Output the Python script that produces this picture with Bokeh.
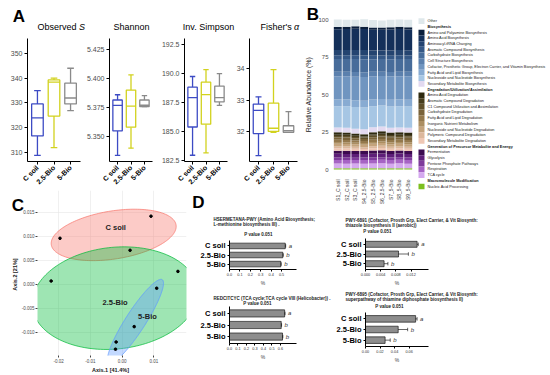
import math
import numpy as np
from bokeh.plotting import figure
from bokeh.layouts import row, column
from bokeh.models import (Range1d, FixedTicker, Whisker, TeeHead,
                          ColumnDataSource, NumeralTickFormatter)
from bokeh.embed import file_html
from bokeh.resources import INLINE
from bokeh.core.properties import value

FONT = "Liberation Sans"

# ------------------------------------------------------------------ data
groups = ["C soil", "2.5-Bio", "5-Bio"]
group_box_colors = ["#3d4bc4", "#d2d21e", "#8a8a8a"]

# Panel A : box statistics per group (lower whisker, Q1, median, Q3, upper whisker)
obs_low = [308.9, 312.0, 326.9]
obs_q1 = [316.7, 324.7, 329.6]
obs_med = [324.0, 338.4, 332.0]
obs_q3 = [329.6, 339.3, 338.0]
obs_high = [335.0, 340.0, 344.0]

sha_low = [5.3338, 5.3400, 5.3756]
sha_q1 = [5.3548, 5.3580, 5.3756]
sha_med = [5.3767, 5.3760, 5.3768]
sha_q3 = [5.3813, 5.3898, 5.3813]
sha_high = [5.3858, 5.4028, 5.3850]

inv_low = [182.96, 183.16, 187.27]
inv_q1 = [185.40, 185.64, 187.56]
inv_med = [187.93, 188.20, 187.93]
inv_q3 = [188.84, 189.27, 188.93]
inv_high = [189.76, 190.36, 190.00]

fis_low = [31.23, 31.97, 31.97]
fis_q1 = [31.93, 32.00, 31.97]
fis_med = [32.67, 32.10, 32.02]
fis_q3 = [32.87, 32.90, 32.18]
fis_high = [33.10, 33.97, 32.63]

a_titles = ["Observed S", "Shannon", "Inv. Simpson", "Fisher's \u03b1"]

# Panel B : relative abundance (%) of pathway classes per sample
samples = ["S1_C soil", "S2_C soil", "S3_C soil", "S4_2.5-Bio", "S5_2.5-Bio",
           "S6_2.5-Bio", "S7_5-Bio", "S8_5-Bio", "S9_5-Bio"]
b_cats = [
    "Other",
    "Amino and Polyamine Biosynthesis",
    "Amino Acid Biosynthesis",
    "Aminoacyl-tRNA Charging",
    "Aromatic Compound Biosynthesis",
    "Carbohydrate Biosynthesis",
    "Cell Structure Biosynthesis",
    "Cofactor, Prosthetic Group, Electron Carrier, and Vitamin Biosynthesis",
    "Fatty Acid and Lipid Biosynthesis",
    "Nucleoside and Nucleotide Biosynthesis",
    "Secondary Metabolite Biosynthesis",
    "Amino Acid Degradation",
    "Aromatic Compound Degradation",
    "C1 Compound Utilization and Assimilation",
    "Carbohydrate Degradation",
    "Fatty Acid and Lipid Degradation",
    "Inorganic Nutrient Metabolism",
    "Nucleoside and Nucleotide Degradation",
    "Polymeric Compound Degradation",
    "Secondary Metabolite Degradation",
    "Fermentation",
    "Glycolysis",
    "Pentose Phosphate Pathways",
    "Respiration",
    "TCA cycle",
    "Nucleic Acid Processing",
]
b_class = ([""] + ["Biosynthesis"] * 10 + ["Degradation/Utilization/Assimilation"] * 9
           + ["Generation of Precursor Metabolite and Energy"] * 5 + ["Macromolecule Modification"])
b_colors = [
    "#dfe8eb",
    "#0b1f3c", "#14305a", "#244470", "#355886", "#476c9a", "#5b80ad", "#7095c0", "#88abd2", "#a6c6e4", "#e2d9f0",
    "#2e2a10", "#473d1d", "#60502b", "#79633a", "#93784c", "#ab8e61", "#c4a37c", "#dcb79c", "#efc7b4",
    "#3c0a4f", "#5e1e78", "#7e3b9b", "#a663c4", "#d5a9ef",
    "#7cbf1e",
]
b_values = [
    [5.0, 4.8, 4.3, 5.0, 4.9, 4.8, 5.0, 4.9, 4.9],
    [1.5, 1.5, 1.6, 1.5, 1.5, 1.5, 1.5, 1.5, 1.5],
    [13.9, 14.0, 14.2, 14.0, 13.8, 13.7, 13.9, 14.0, 13.9],
    [3.5, 3.5, 3.6, 3.6, 3.5, 3.4, 3.5, 3.5, 3.5],
    [2.4, 2.4, 2.5, 2.5, 2.4, 2.4, 2.4, 2.4, 2.4],
    [8.5, 8.5, 8.6, 8.7, 8.4, 8.4, 8.5, 8.5, 8.5],
    [3.0, 3.0, 3.1, 3.1, 3.0, 2.9, 3.0, 3.0, 3.0],
    [15.5, 15.6, 15.7, 15.8, 15.4, 15.3, 15.5, 15.5, 15.6],
    [4.5, 4.5, 4.6, 4.6, 4.5, 4.4, 4.5, 4.5, 4.5],
    [14.2, 14.2, 14.4, 14.5, 14.1, 14.0, 14.2, 14.2, 14.2],
    [3.2, 3.2, 3.2, 3.3, 3.2, 3.1, 3.2, 3.2, 3.2],
    [1.6, 1.6, 1.5, 1.5, 1.6, 1.7, 1.6, 1.6, 1.6],
    [0.8, 0.8, 0.8, 0.7, 0.8, 0.8, 0.8, 0.8, 0.8],
    [1.0, 1.0, 0.9, 0.9, 1.0, 1.0, 1.0, 1.0, 1.0],
    [1.6, 1.6, 1.5, 1.4, 1.6, 1.7, 1.6, 1.6, 1.6],
    [1.5, 1.5, 1.4, 1.4, 1.5, 1.5, 1.5, 1.5, 1.5],
    [1.2, 1.2, 1.1, 1.1, 1.2, 1.2, 1.2, 1.2, 1.2],
    [1.7, 1.7, 1.6, 1.6, 1.7, 1.8, 1.7, 1.7, 1.7],
    [1.3, 1.3, 1.3, 1.2, 1.3, 1.4, 1.3, 1.3, 1.3],
    [1.6, 1.5, 1.5, 1.4, 1.6, 1.6, 1.6, 1.5, 1.5],
    [2.0, 2.1, 2.0, 1.9, 2.1, 2.2, 1.9, 2.0, 2.0],
    [2.5, 2.4, 2.5, 2.4, 2.5, 2.6, 2.4, 2.5, 2.4],
    [1.6, 1.6, 1.5, 1.6, 1.6, 1.5, 1.6, 1.6, 1.6],
    [2.4, 2.5, 2.4, 2.5, 2.4, 2.4, 2.5, 2.4, 2.5],
    [3.2, 3.1, 3.2, 3.0, 3.2, 3.3, 3.1, 3.2, 3.1],
    [0.8, 0.8, 0.8, 0.9, 0.8, 0.8, 0.8, 0.9, 0.8],
]

# Panel C : PCoA coordinates
pc_x = [0.0091, -0.0196, 0.0025, -0.0224, 0.0176, -0.0019, 0.0109, 0.0038, -0.0021]
pc_y = [0.0142, 0.0096, 0.0071, 0.0007, 0.0027, -0.0120, -0.0008, -0.0088, -0.0135]
pc_group = ["C soil"] * 3 + ["2.5-Bio"] * 3 + ["5-Bio"] * 3
ell_colors = ["#F8766D", "#00BA38", "#619CFF"]
axis1_label = "Axis.1   [41.4%]"
axis2_label = "Axis.2   [21%]"

# Panel D : differentially abundant pathways (%)
d_titles = [
    ["HSERMETANA-PWY (Amino Acid Biosynthesis;", "L-methionine biosynthesis III) ."],
    ["REDCITCYC (TCA cycle;TCA cycle VIII (Helicobacter)) ."],
    ["PWY-6891 (Cofactor, Prosth Grp, Elect Carrier, & Vit Biosynth:", "thiazole biosynthesis II (aerobic))"],
    ["PWY-6895 (Cofactor, Prosth Grp, Elect Carrier, & Vit Biosynth:", "superpathway of thiamine diphosphate biosynthesis II)"],
]
d_pvalues = [0.051, 0.051, 0.051, 0.051]
d1_vals = [0.536, 0.512, 0.493]
d1_err = [0.004, 0.005, 0.004]
d2_vals = [0.650, 0.610, 0.625]
d2_err = [0.005, 0.004, 0.004]
d3_vals = [0.0136, 0.0087, 0.0049]
d3_err = [0.0003, 0.0026, 0.0010]
d4_vals = [0.069, 0.045, 0.027]
d4_err = [0.002, 0.013, 0.007]
d_letters = ["a", "b", "b"]


# ------------------------------------------------------------------ helpers
def make_fig(width, height, xr, yr, bl, br, bt, bb, axes=True):
    kw = dict(width=width, height=height, x_range=xr, y_range=yr, output_backend="svg",
              toolbar_location=None, min_border_left=bl, min_border_right=br,
              min_border_top=bt, min_border_bottom=bb, title=None)
    if not axes:
        kw.update(x_axis_location=None, y_axis_location=None)
    p = figure(**kw)
    if "frame_align" in p.properties():
        p.frame_align = False
    p.background_fill_color = None
    p.border_fill_color = None
    p.outline_line_color = None
    p.xgrid.grid_line_color = None
    p.ygrid.grid_line_color = None
    return p


def style_axis(ax, size, color="#4d4d4d", bold=False, line="black", tick_out=2):
    ax.major_label_text_font = FONT
    ax.major_label_text_font_size = size
    ax.major_label_text_color = color
    ax.major_label_text_font_style = "bold" if bold else "normal"
    ax.axis_line_color = line
    ax.major_tick_line_color = line
    ax.minor_tick_line_color = None
    ax.major_tick_out = tick_out
    ax.major_tick_in = 0
    ax.major_label_standoff = 2
    ax.axis_label_text_font = FONT


# ------------------------------------------------------------------ panel A
def box_panel(stats, yr, ticks, fmt, width, bl, br):
    low, q1, med, q3, high = stats
    p = make_fig(width, 190, Range1d(0.4, 3.6), Range1d(*yr), bl, br, 38, 28)
    x = [1, 2, 3]
    src = ColumnDataSource(dict(
        x=x, low=low, q1=q1, med=med, q3=q3, high=high, color=group_box_colors,
        xl=[v - 0.35 for v in x], xr=[v + 0.35 for v in x],
        cl=[v - 0.2 for v in x], cr=[v + 0.2 for v in x]))
    lw = 1.3
    p.segment(x0="x", y0="low", x1="x", y1="q1", line_color="color", line_width=lw, source=src)
    p.segment(x0="x", y0="q3", x1="x", y1="high", line_color="color", line_width=lw, source=src)
    p.segment(x0="cl", y0="low", x1="cr", y1="low", line_color="color", line_width=lw, source=src)
    p.segment(x0="cl", y0="high", x1="cr", y1="high", line_color="color", line_width=lw, source=src)
    p.quad(left="xl", right="xr", bottom="q1", top="q3", fill_color="white",
           line_color="color", line_width=lw, source=src)
    p.segment(x0="xl", y0="med", x1="xr", y1="med", line_color="color", line_width=lw, source=src)
    p.xaxis.ticker = FixedTicker(ticks=x)
    p.xaxis.major_label_overrides = {i + 1: g for i, g in enumerate(groups)}
    p.xaxis.major_label_orientation = math.pi / 4
    style_axis(p.xaxis[0], "7px", color="black", bold=True, tick_out=3)
    p.yaxis.ticker = FixedTicker(ticks=ticks)
    p.yaxis.formatter = NumeralTickFormatter(format=fmt)
    style_axis(p.yaxis[0], "7px", tick_out=3)
    return p


a1 = box_panel([obs_low, obs_q1, obs_med, obs_q3, obs_high], (306.4, 356.0),
               [310, 320, 330, 340, 350], "0", 83, 27, 3)
a2 = box_panel([sha_low, sha_q1, sha_med, sha_q3, sha_high], (5.3286, 5.434),
               [5.350, 5.375, 5.400, 5.425], "0.000", 75, 22, 6)
a3 = box_panel([inv_low, inv_q1, inv_med, inv_q3, inv_high], (182.42, 193.04),
               [182.5, 185.0, 187.5, 190.0, 192.5], "0.0", 75, 22, 6)
a4 = box_panel([fis_low, fis_q1, fis_med, fis_q3, fis_high], (31.04, 34.96),
               [32, 33, 34], "0", 67, 13, 3)

# ------------------------------------------------------------------ panel B
pb = make_fig(116, 207, Range1d(0.4, 9.6), Range1d(-4, 104), 32, 3, 13, 30)
bx = list(range(1, len(samples) + 1))
bdata = {"x": bx}
for cat, vals in zip(b_cats, b_values):
    bdata[cat] = vals
pb.vbar_stack(list(reversed(b_cats)), x="x", width=0.9, color=list(reversed(b_colors)),
              line_color=None, source=ColumnDataSource(bdata))
pb.xaxis.ticker = FixedTicker(ticks=bx)
pb.xaxis.major_label_overrides = {i + 1: s for i, s in enumerate(samples)}
pb.xaxis.major_label_orientation = math.pi / 2
style_axis(pb.xaxis[0], "5px", color="#333333", line=None)
pb.yaxis.ticker = FixedTicker(ticks=[0, 25, 50, 75, 100])
style_axis(pb.yaxis[0], "6px", line=None)
pb.yaxis.axis_label = "Relative Abundance (%)"
pb.yaxis.axis_label_text_font_size = "7px"
pb.yaxis.axis_label_text_font_style = "normal"
pb.yaxis.axis_label_text_color = "#222222"
pb.yaxis.axis_label_standoff = 3

# legend of panel B (built from the category / class lists)
rows_text, rows_bold, rows_y = [], [], []
sw_y, sw_c = [], []
r = 0
prev = None
for cat, cls, col in zip(b_cats, b_class, b_colors):
    if cls and cls != prev:
        rows_text.append(cls)
        rows_bold.append(True)
        rows_y.append(-r)
        r += 1
    prev = cls
    rows_text.append(cat)
    rows_bold.append(False)
    rows_y.append(-r)
    sw_y.append(-r)
    sw_c.append(col)
    r += 1
pl = make_fig(134, 207, Range1d(0, 134), Range1d(-32.68, 3.63), 0, 0, 0, 0, axes=False)
pl.rect(x=5, y=sw_y, width=6, height=1.0, fill_color=sw_c, line_color=None)
pl.text(x=11, y=[y for y, b in zip(rows_y, rows_bold) if not b],
        text=[t for t, b in zip(rows_text, rows_bold) if not b],
        text_font=value(FONT), text_font_size="3.8px", text_baseline="middle",
        text_color="#222222")
pl.text(x=11, y=[y for y, b in zip(rows_y, rows_bold) if b],
        text=[t for t, b in zip(rows_text, rows_bold) if b],
        text_font=value(FONT), text_font_size="3.8px", text_font_style="bold",
        text_baseline="middle", text_color="#111111")

# ------------------------------------------------------------------ panel C
pc = make_fig(190, 185, Range1d(-0.0267, 0.0203), Range1d(-0.01481, 0.01955), 37, 4, 0, 18)
pc.xgrid.grid_line_color = "#e6e6e6"
pc.ygrid.grid_line_color = "#e6e6e6"
pc.xgrid.grid_line_width = 0.6
pc.ygrid.grid_line_width = 0.6
xt = [-0.02, -0.01, 0.0, 0.01]
yt = [-0.010, -0.005, 0.0, 0.005, 0.010, 0.015]
pc.xaxis.ticker = FixedTicker(ticks=xt)
pc.xgrid.ticker = FixedTicker(ticks=xt)
pc.yaxis.ticker = FixedTicker(ticks=yt)
pc.ygrid.ticker = FixedTicker(ticks=yt)
pc.xaxis.formatter = NumeralTickFormatter(format="0.00")
pc.yaxis.formatter = NumeralTickFormatter(format="0.000")
for ax in (pc.xaxis[0], pc.yaxis[0]):
    style_axis(ax, "4.5px", line=None)
    ax.major_tick_line_color = "#444444"
    ax.major_label_standoff = 1
    ax.axis_label_text_font_size = "5.5px"
    ax.axis_label_text_font_style = "bold"
    ax.axis_label_text_color = "#222222"
    ax.axis_label_standoff = 1
pc.xaxis.axis_label = axis1_label
pc.yaxis.axis_label = axis2_label

pxs, pys, cents = [], [], []
t = np.linspace(0, 2 * np.pi, 160)
circ = np.vstack([np.cos(t), np.sin(t)])
for g in groups:
    gx = np.array([x for x, gg in zip(pc_x, pc_group) if gg == g])
    gy = np.array([y for y, gg in zip(pc_y, pc_group) if gg == g])
    m = np.array([gx.mean(), gy.mean()])
    cov = np.cov(np.vstack([gx, gy])) + 4e-6 * np.eye(2)
    vals, vecs = np.linalg.eigh(cov)
    e = m[:, None] + 1.3 * vecs @ (np.sqrt(vals)[:, None] * circ)
    pxs.append(list(e[0]))
    pys.append(list(e[1]))
    cents.append(m)
pc.patches(xs=pxs, ys=pys, fill_color=ell_colors, fill_alpha=0.38,
           line_color=ell_colors, line_alpha=0.9, line_width=0.8)
pc.scatter(pc_x, pc_y, size=2.6, color="black")
pc.text(x=[c[0] for c in cents], y=[c[1] for c in cents], text=groups,
        x_offset=[2, 0, 12], y_offset=[-7, 4, -5], text_font=value(FONT),
        text_font_size="7.5px", text_font_style="bold", text_align="center",
        text_baseline="middle", text_color="#222222")


# ------------------------------------------------------------------ panel D
def d_panel(width, height, bl, br, bt, bb, xmax, ticks, fmt, vals, errs):
    p = make_fig(width, height, Range1d(0, xmax), Range1d(0.4, 3.6), bl, br, bt, bb)
    y = [3, 2, 1]
    src = ColumnDataSource(dict(y=y, v=vals, lo=[a - b for a, b in zip(vals, errs)],
                                hi=[a + b for a, b in zip(vals, errs)], letter=d_letters))
    p.hbar(y="y", left=0, right="v", height=0.62, fill_color="#8d8d8d",
           line_color="black", line_width=0.6, source=src)
    p.add_layout(Whisker(source=src, base="y", lower="lo", upper="hi", dimension="width",
                         line_width=0.6, line_color="black",
                         lower_head=TeeHead(size=3.5, line_width=0.6),
                         upper_head=TeeHead(size=3.5, line_width=0.6)))
    p.text(x="hi", y="y", text="letter", x_offset=3, source=src, text_font=value(FONT),
           text_font_size="6px", text_font_style="italic", text_baseline="middle",
           text_align="left", text_color="#333333")
    p.yaxis.ticker = FixedTicker(ticks=y)
    p.yaxis.major_label_overrides = {3: groups[0], 2: groups[1], 1: groups[2]}
    style_axis(p.yaxis[0], "7.5px", color="black", bold=True)
    p.xaxis.ticker = FixedTicker(ticks=ticks)
    p.xaxis.formatter = NumeralTickFormatter(format=fmt)
    style_axis(p.xaxis[0], "3.8px", color="#333333")
    p.xaxis.major_label_standoff = 1
    p.xaxis.axis_label = "%"
    p.xaxis.axis_label_text_font_size = "5px"
    p.xaxis.axis_label_text_font_style = "normal"
    p.xaxis.axis_label_standoff = 1
    return p


d1 = d_panel(143, 98, 39, 37, 50, 16, 0.644, [0, 0.1, 0.2, 0.3, 0.4, 0.5], "0.0", d1_vals, d1_err)
d2 = d_panel(143, 87, 39, 37, 18, 32, 0.79, [0, 0.1, 0.2, 0.3, 0.4, 0.5, 0.6], "0.0", d2_vals, d2_err)
d3 = d_panel(217, 98, 30, 122, 48, 16, 0.0166, [0, 0.004, 0.008, 0.012], "0.000", d3_vals, d3_err)
d4 = d_panel(217, 87, 30, 122, 24, 29, 0.0867, [0, 0.02, 0.04, 0.06], "0.00", d4_vals, d4_err)

# ------------------------------------------------------------------ text overlay (page pixel coordinates)
ov = make_fig(550, 375, Range1d(0, 550), Range1d(375, 0), 0, 0, 0, 0, axes=False)


def otext(x, y, txt, size, style="normal", align="center", color="black"):
    ov.text(x=[x], y=[y], text=[txt], text_font=value(FONT), text_font_size=size,
            text_font_style=style, text_align=align, text_baseline="middle", text_color=color)


for letter, (lx, ly) in zip("ABCD", [(18.5, 15.5), (312.5, 14), (17.5, 205), (198, 202)]):
    otext(lx, ly, letter, "17px", "bold")
obs_word, obs_sym = a_titles[0].split(" ")
otext(37, 26, obs_word, "9px", align="left")
otext(78.5, 26, obs_sym, "9px", style="italic", align="left")
otext(131, 26, a_titles[1], "9px")
otext(208, 26, a_titles[2], "9px")
fis_word, fis_sym = a_titles[3].split(" ")
otext(260, 26, fis_word, "9px", align="left")
otext(293.5, 26, fis_sym, "9px", style="italic", align="left")

TS = "4.5px"
d_line_pos = [[(213, 219), (213, 224)], [(213, 298)], [(345, 220), (345, 225)], [(345, 294), (345, 299)]]
d_pv_pos = [(258, 234), (257, 302.5), (377, 231), (389, 306)]
for lines, lpos, pvv, ppos in zip(d_titles, d_line_pos, d_pvalues, d_pv_pos):
    for txt, (lx, ly) in zip(lines, lpos):
        otext(lx, ly, txt, TS, "bold", align="left", color="#222222")
    otext(ppos[0], ppos[1], "P value %.3f" % pvv, TS, "bold", color="#222222")

# ------------------------------------------------------------------ layout
top = row(a1, a2, a3, a4, pb, pl)
bottom = row(pc, column(d1, d2), column(d3, d4))
bottom.margin = (-17, 0, 0, 0)
ov.margin = (-375, 0, 0, 0)
page = column(top, bottom, ov)

open("out.html", "w").write(file_html(page, INLINE))
